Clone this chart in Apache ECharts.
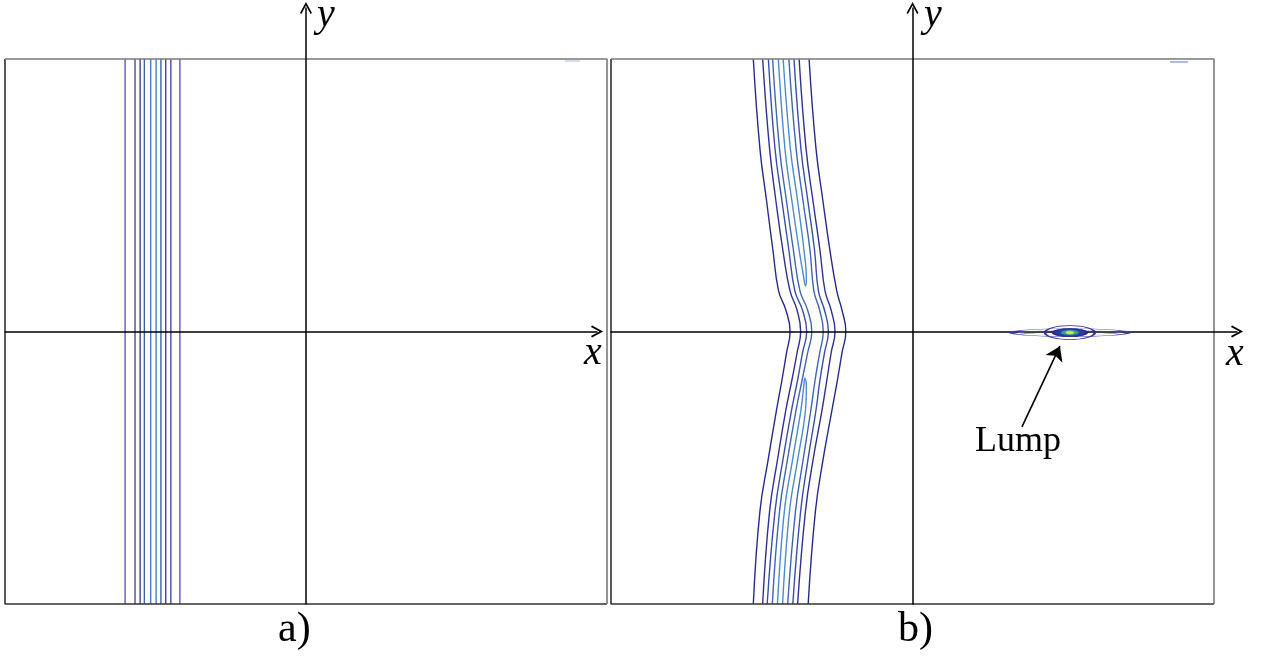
<!DOCTYPE html>
<html>
<head>
<meta charset="utf-8">
<title>Contour plots</title>
<script src="https://cdn.jsdelivr.net/npm/echarts@6/dist/echarts.min.js"></script>
<style>
html, body { margin: 0; padding: 0; background: #fff; }
#chart { width: 1261px; height: 662px; }
</style>
</head>
<body>
<div id="chart"></div>
<script>
// frame of each panel (data units)
const box = [[-10, -10], [10, -10], [10, 10], [-10, 10]];

// panel a) straight contour lines, x position of each line
const aLinesX = [-6.01, -5.68, -5.51, -5.37, -5.16, -4.98, -4.82, -4.66, -4.49, -4.19];

// panel b) open contour lines, x read at shared y levels
const bY = [10, 6.7, 4.79, 2.99, 1.48, 0.79, 0, -0.79, -1.78, -2.88, -4.72, -6.59, -10];
const bL1 = [-5.28, -5.06, -4.84, -4.63, -4.44, -4.20, -4.06, -4.18, -4.33, -4.51, -4.79, -5.06, -5.28];
const bL2 = [-4.97, -4.74, -4.53, -4.30, -4.06, -3.83, -3.71, -3.83, -4.00, -4.20, -4.48, -4.74, -4.97];
const bL3 = [-4.78, -4.56, -4.33, -4.10, -3.90, -3.65, -3.51, -3.65, -3.81, -4.01, -4.30, -4.56, -4.82];
const bL4 = [-4.64, -4.41, -4.18, -3.95, -3.73, -3.48, -3.34, -3.48, -3.66, -3.86, -4.15, -4.41, -4.65];
const bL7 = [-4.10, -3.86, -3.63, -3.40, -3.27, -3.08, -2.96, -3.08, -3.23, -3.37, -3.63, -3.88, -4.14];
const bL8 = [-3.93, -3.70, -3.47, -3.25, -3.12, -2.92, -2.79, -2.92, -3.07, -3.20, -3.47, -3.71, -3.97];
const bL9 = [-3.76, -3.53, -3.30, -3.07, -2.90, -2.70, -2.57, -2.70, -2.84, -3.00, -3.30, -3.55, -3.81];
const bL10 = [-3.43, -3.20, -2.97, -2.74, -2.51, -2.34, -2.21, -2.34, -2.49, -2.67, -2.97, -3.22, -3.46];

// panel b) closed inner contours (upper and lower half)
const bUpperLoop = [[-4.45, 10], [-4.23, 6.7], [-4.0, 4.79], [-3.76, 2.99], [-3.62, 2.07], [-3.55, 1.67],
  [-3.52, 1.93], [-3.6, 2.99], [-3.81, 4.79], [-4.05, 6.7], [-4.29, 10]];
const bLowerLoop = [[-4.48, -10], [-4.25, -6.59], [-3.98, -4.72], [-3.7, -2.88], [-3.6, -1.96], [-3.57, -1.71],
  [-3.52, -1.96], [-3.55, -2.88], [-3.81, -4.72], [-4.08, -6.59], [-4.31, -10]];

// lump
const lumpCenter = [5.22, -0.04];
const lumpArrow = [[3.63, -3.5], [4.89, -0.54]];

// small contour pieces touching the top edge
const edgeMarkA = [[8.6, 9.93], [9.1, 9.93]];
const edgeMarkB = [[8.54, 9.89], [9.14, 9.89]];

const levelColorsA = ['#5c5cb0', '#4a4aa2', '#44449c', '#3e62ac', '#4080c2', '#4080c2', '#3e62ac', '#44449c', '#4a4aa2', '#5c5cb0'];
const levelColorsB = ['#28288e', '#2f3096', '#3a4ea8', '#3e66b4', '#3e66b4', '#3a4ea8', '#2f3096', '#28288e'];

const arrowPath = 'path://M6,0 L12,11 L10.6,12.2 L6,3.6 L1.4,12.2 L0,11 Z';
const ellipsePath = 'path://M0,50 A50,50 0 1,1 100,50 A50,50 0 1,1 0,50 Z';

// grids: 0 = frame a, 1 = axes a, 2 = frame b, 3 = axes b
function hiddenAxis(gridIndex) {
  return { type: 'value', gridIndex: gridIndex, min: -10, max: 10, show: false };
}

function arrowAxis(gridIndex, min, max) {
  return {
    type: 'value',
    gridIndex: gridIndex,
    min: min,
    max: max,
    z: 5,
    axisLine: {
      show: true,
      onZero: true,
      symbol: ['none', arrowPath],
      symbolSize: [12, 13],
      lineStyle: { color: '#000', width: 1.5 }
    },
    axisTick: { show: false },
    axisLabel: { show: false },
    splitLine: { show: false }
  };
}

function frameSeries(idx) {
  return [
    {
      type: 'line', xAxisIndex: idx, yAxisIndex: idx, symbol: 'none', clip: false, silent: true, z: 4,
      data: [box[3], box[0], box[1]],
      lineStyle: { color: '#333', width: 1.6 }
    },
    {
      type: 'line', xAxisIndex: idx, yAxisIndex: idx, symbol: 'none', clip: false, silent: true, z: 4,
      data: [box[3], box[2], box[1]],
      lineStyle: { color: '#7a7a7a', width: 1.6 }
    }
  ];
}

const series = [];
series.push(...frameSeries(0), ...frameSeries(2));

aLinesX.forEach((x, i) => {
  series.push({
    type: 'line', xAxisIndex: 0, yAxisIndex: 0, symbol: 'none', silent: true,
    data: [[x, box[0][1]], [x, box[2][1]]],
    lineStyle: { color: levelColorsA[i], width: 1.4 }
  });
});

[bL1, bL2, bL3, bL4, bL7, bL8, bL9, bL10].forEach((xs, i) => {
  series.push({
    type: 'line', xAxisIndex: 2, yAxisIndex: 2, symbol: 'none', silent: true,
    smooth: 0.45,
    data: xs.map((x, k) => [x, bY[k]]),
    lineStyle: { color: levelColorsB[i], width: 1.4 }
  });
});

[bUpperLoop, bLowerLoop].forEach(pts => {
  series.push({
    type: 'line', xAxisIndex: 2, yAxisIndex: 2, symbol: 'none', silent: true,
    smooth: 0.4,
    data: pts,
    lineStyle: { color: '#4a8ccc', width: 1.4 }
  });
});

series.push({
  type: 'line', xAxisIndex: 0, yAxisIndex: 0, symbol: 'none', silent: true,
  data: edgeMarkA, lineStyle: { color: '#c4d2ec', width: 1.5 }
});
series.push({
  type: 'line', xAxisIndex: 2, yAxisIndex: 2, symbol: 'none', silent: true,
  data: edgeMarkB, lineStyle: { color: '#8ea8dc', width: 1.5 }
});

// lump rings, outer to inner
const rings = [
  { size: [118, 8], stroke: '#3a3aa8', fill: 'rgba(0,0,0,0)', w: 1.4 },
  { size: [98, 4], stroke: '#5656b8', fill: 'rgba(0,0,0,0)', w: 1.1 },
  { size: [50, 14], stroke: '#30309c', fill: 'rgba(0,0,0,0)', w: 1.4 },
  { size: [34, 8], stroke: '#22228a', fill: '#2a3c9c', w: 1.3 },
  { size: [18, 5], stroke: '#2c7fa8', fill: '#2fa59a', w: 0.5 },
  { size: [8, 3], stroke: '#c8d84a', fill: '#d9e34c', w: 0.5 }
];
rings.forEach(r => {
  series.push({
    type: 'scatter', xAxisIndex: 2, yAxisIndex: 2, silent: true, z: 10,
    symbol: ellipsePath, symbolSize: r.size,
    data: [lumpCenter],
    itemStyle: { color: r.fill, borderColor: r.stroke, borderWidth: r.w, opacity: 1 }
  });
});

series.push({
  type: 'lines', coordinateSystem: 'cartesian2d', xAxisIndex: 2, yAxisIndex: 2, silent: true, z: 11,
  symbol: ['none', 'arrow'], symbolSize: 14,
  data: [{ coords: lumpArrow }],
  lineStyle: { color: '#000', width: 1.6, opacity: 1 }
});

const serif = 'Liberation Serif';
const option = {
  animation: false,
  backgroundColor: '#fff',
  grid: [
    { left: 5, top: 59, width: 602, height: 545 },
    { left: 5, top: 8, width: 592, height: 596 },
    { left: 611, top: 59, width: 603, height: 545 },
    { left: 611, top: 8, width: 626, height: 596 }
  ],
  xAxis: [hiddenAxis(0), arrowAxis(1, -10, 9.67), hiddenAxis(2), arrowAxis(3, -10, 10.76)],
  yAxis: [hiddenAxis(0), arrowAxis(1, -10, 11.87), hiddenAxis(2), arrowAxis(3, -10, 11.87)],
  graphic: [
    { type: 'text', left: 317, top: -5, style: { text: 'y', font: 'italic 40px ' + serif, fill: '#000' } },
    { type: 'text', left: 924, top: -5, style: { text: 'y', font: 'italic 40px ' + serif, fill: '#000' } },
    { type: 'text', left: 584, top: 333, style: { text: 'x', font: 'italic 40px ' + serif, fill: '#000' } },
    { type: 'text', left: 1226, top: 334, style: { text: 'x', font: 'italic 40px ' + serif, fill: '#000' } },
    { type: 'text', left: 975, top: 424, style: { text: 'Lump', font: '36px ' + serif, fill: '#000' } },
    { type: 'text', left: 278, top: 609, style: { text: 'a)', font: '42px ' + serif, fill: '#000' } },
    { type: 'text', left: 898, top: 609, style: { text: 'b)', font: '42px ' + serif, fill: '#000' } }
  ],
  series: series
};

const chart = echarts.init(document.getElementById('chart'));
chart.setOption(option);
</script>
</body>
</html>
